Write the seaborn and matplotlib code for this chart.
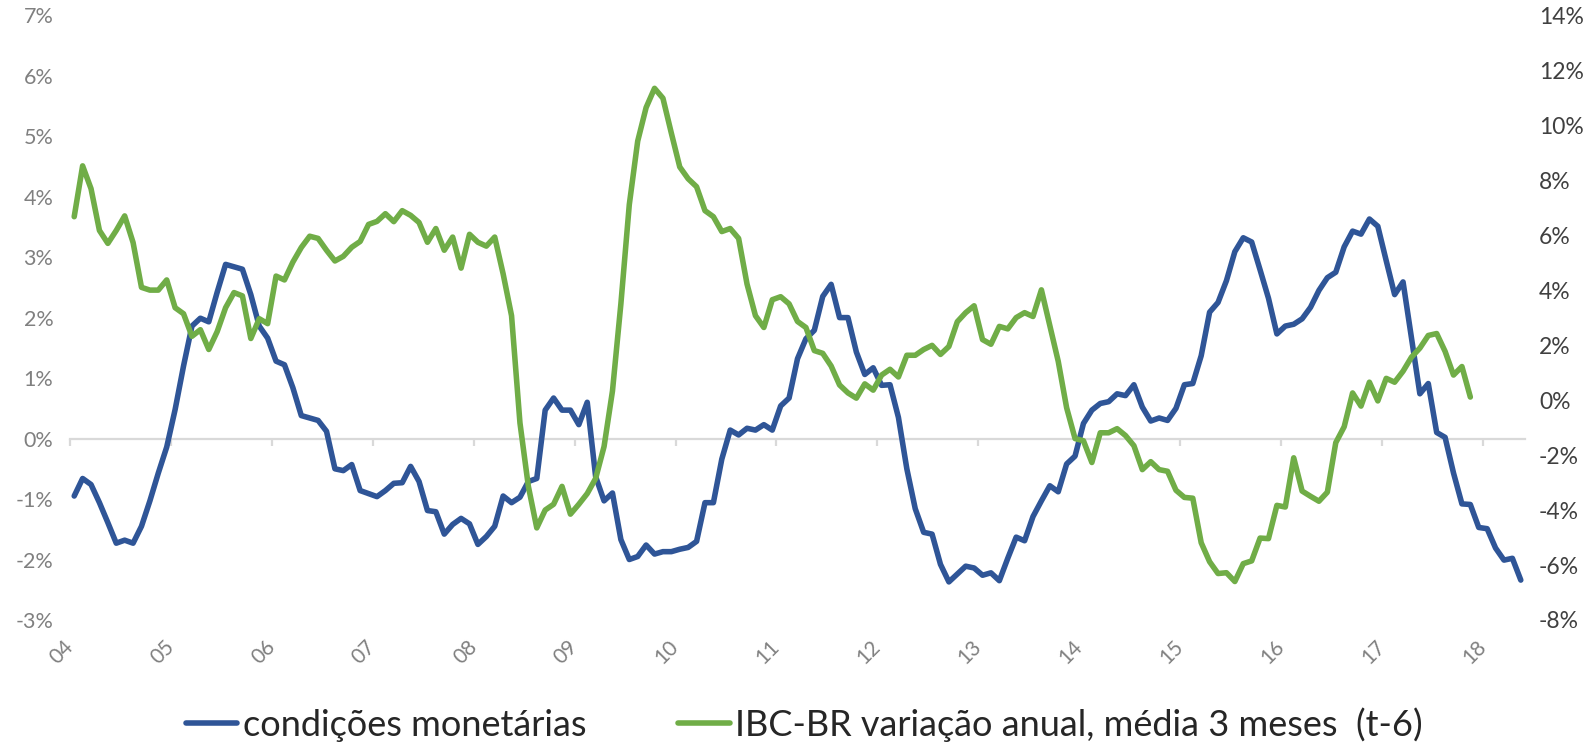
import numpy as np
import pandas as pd
import matplotlib
matplotlib.use("Agg")
import matplotlib.pyplot as plt
import seaborn as sns

# ---------------- data (monthly, Jan-2004 onwards) ----------------
year_labels = ['04', '05', '06', '07', '08', '09', '10', '11', '12',
               '13', '14', '15', '16', '17', '18']

cond_monetarias = [
    -0.95, -0.66, -0.76, -1.06, -1.39, -1.73, -1.68, -1.73, -1.45, -1.03,
    -0.57, -0.14, 0.48, 1.20, 1.86, 1.99, 1.93, 2.42, 2.88, 2.84,
    2.80, 2.38, 1.86, 1.66, 1.28, 1.22, 0.84, 0.38, 0.34, 0.30,
    0.12, -0.50, -0.53, -0.43, -0.86, -0.91, -0.96, -0.86, -0.74, -0.73,
    -0.46, -0.71, -1.19, -1.21, -1.58, -1.42, -1.32, -1.41, -1.75, -1.62,
    -1.45, -0.95, -1.06, -0.97, -0.71, -0.66, 0.47, 0.67, 0.47, 0.47,
    0.23, 0.60, -0.63, -1.03, -0.90, -1.67, -2.00, -1.95, -1.76, -1.91,
    -1.87, -1.87, -1.83, -1.80, -1.70, -1.06, -1.06, -0.34, 0.14, 0.06,
    0.17, 0.14, 0.23, 0.14, 0.54, 0.67, 1.32, 1.65, 1.79, 2.35,
    2.55, 2.00, 2.00, 1.43, 1.06, 1.17, 0.88, 0.89, 0.35, -0.50,
    -1.16, -1.55, -1.58, -2.08, -2.37, -2.24, -2.11, -2.14, -2.26, -2.22,
    -2.35, -1.98, -1.63, -1.69, -1.29, -1.03, -0.78, -0.88, -0.42, -0.29,
    0.25, 0.47, 0.58, 0.61, 0.74, 0.71, 0.89, 0.52, 0.29, 0.34,
    0.30, 0.50, 0.89, 0.91, 1.37, 2.09, 2.25, 2.61, 3.09, 3.32,
    3.25, 2.79, 2.32, 1.73, 1.86, 1.89, 1.98, 2.17, 2.45, 2.66,
    2.75, 3.17, 3.43, 3.38, 3.63, 3.51, 2.94, 2.38, 2.59, 1.66,
    0.74, 0.91, 0.10, 0.02, -0.57, -1.08, -1.09, -1.47, -1.49, -1.81,
    -2.01, -1.98, -2.34,
]

ibc_br = [
    6.67, 8.52, 7.69, 6.17, 5.70, 6.17, 6.70, 5.73, 4.10, 4.00,
    4.00, 4.37, 3.36, 3.14, 2.32, 2.56, 1.84, 2.49, 3.36, 3.91,
    3.79, 2.24, 2.96, 2.78, 4.51, 4.37, 5.02, 5.55, 5.96, 5.88,
    5.45, 5.06, 5.23, 5.56, 5.77, 6.39, 6.50, 6.78, 6.49, 6.89,
    6.72, 6.46, 5.74, 6.24, 5.45, 5.93, 4.80, 6.03, 5.74, 5.60,
    5.93, 4.59, 3.07, -0.83, -3.14, -4.65, -4.00, -3.79, -3.14, -4.15,
    -3.79, -3.40, -2.85, -1.69, 0.33, 3.50, 7.11, 9.42, 10.64, 11.34,
    10.98, 9.71, 8.48, 8.05, 7.76, 6.89, 6.67, 6.13, 6.24, 5.88,
    4.22, 3.07, 2.64, 3.65, 3.76, 3.50, 2.86, 2.64, 1.80, 1.70,
    1.24, 0.55, 0.26, 0.07, 0.59, 0.36, 0.91, 1.12, 0.84, 1.63,
    1.63, 1.84, 1.99, 1.66, 1.95, 2.85, 3.18, 3.43, 2.20, 2.03,
    2.68, 2.59, 3.00, 3.18, 3.04, 4.01, 2.71, 1.41, -0.28, -1.40,
    -1.48, -2.27, -1.19, -1.19, -1.04, -1.29, -1.66, -2.53, -2.24, -2.53,
    -2.59, -3.28, -3.54, -3.57, -5.19, -5.88, -6.31, -6.28, -6.60, -5.95,
    -5.85, -5.02, -5.04, -3.83, -3.89, -2.10, -3.31, -3.50, -3.68, -3.35,
    -1.55, -0.97, 0.26, -0.22, 0.65, -0.03, 0.79, 0.65, 1.05, 1.56,
    1.89, 2.35, 2.42, 1.77, 0.91, 1.22, 0.11,
]

left_ticks = [-3, -2, -1, 0, 1, 2, 3, 4, 5, 6, 7]
right_ticks = [-8, -6, -4, -2, 0, 2, 4, 6, 8, 10, 12, 14]

label_blue = 'condições monetárias'
label_green = 'IBC-BR variação anual, média 3 meses  (t-6)'

BLUE = '#2F5597'
GREEN = '#70AD47'
AXIS_GRAY = '#D9D9D9'

# ---------------- figure ----------------
sns.set_theme(style='white')
plt.rcParams['font.family'] = ['Lato', 'DejaVu Sans']

df_b = pd.DataFrame({'x': np.arange(len(cond_monetarias)) + 0.5, 'v': cond_monetarias})
df_g = pd.DataFrame({'x': np.arange(len(ibc_br)) + 0.5, 'v': ibc_br})

fig = plt.figure(figsize=(15.93, 7.42), dpi=100)
ax = fig.add_axes([70 / 1593, 1 - 620 / 742, (1525 - 70) / 1593, (620 - 15.2) / 742])
ax2 = ax.twinx()

sns.lineplot(data=df_b, x='x', y='v', ax=ax, color=BLUE, lw=4.0, legend=False)
line_b = ax.lines[-1]
line_b.set_solid_joinstyle('round')
line_b.set_solid_capstyle('round')
sns.lineplot(data=df_g, x='x', y='v', ax=ax2, color=GREEN, lw=4.0, legend=False)
line_g = ax2.lines[-1]
line_g.set_solid_joinstyle('round')
line_g.set_solid_capstyle('round')

ax.set_xlim(0, 12 * (len(year_labels) - 1) + 5)
ax.set_ylim(left_ticks[0], left_ticks[-1])
ax2.set_ylim(right_ticks[0], right_ticks[-1])

for a in (ax, ax2):
    a.set_xlabel('')
    a.set_ylabel('')
    a.grid(False)
    for s in ('top', 'left', 'right'):
        a.spines[s].set_visible(False)
ax2.spines['bottom'].set_visible(False)

# x axis line at zero on the left scale
ax.spines['bottom'].set_position(('data', 0))
ax.spines['bottom'].set_color(AXIS_GRAY)
ax.spines['bottom'].set_linewidth(1.6)
ax.spines['bottom'].set_zorder(0)
xt = np.arange(len(year_labels)) * 12
ax.set_xticks(xt)
ax.tick_params(axis='x', which='both', direction='out', length=5, width=1.6,
               color=AXIS_GRAY, labelbottom=False, bottom=True)

# x tick labels at the bottom of the plot area
sec = ax.secondary_xaxis(0.0)
sec.set_xticks(xt)
sec.set_xticklabels(year_labels)
sec.spines['bottom'].set_visible(False)
sec.tick_params(axis='x', length=0, pad=17, labelsize=15, labelcolor='#808080')
for t in sec.get_xticklabels():
    t.set_rotation(45)
    t.set_ha('right')
    t.set_va('center')
    t.set_rotation_mode('anchor')

# y axes
ax.set_yticks(left_ticks)
ax.set_yticklabels([f'{v}%' for v in left_ticks])
ax.tick_params(axis='y', length=0, pad=12, labelsize=15.5, labelcolor='#808080', left=False)
ax2.set_yticks(right_ticks)
ax2.set_yticklabels([f'{v}%' for v in right_ticks])
ax2.tick_params(axis='y', length=0, pad=10, labelsize=16.5, labelcolor='#404040', right=False)

fig.legend(handles=[line_b, line_g], labels=[label_blue, label_green],
           loc='center', bbox_to_anchor=(0.505, 0.024), ncol=2, frameon=False,
           fontsize=26, handlelength=1.42, handletextpad=0.15, columnspacing=2.55,
           borderaxespad=0, borderpad=0)

fig.savefig('out.png', dpi=100)
